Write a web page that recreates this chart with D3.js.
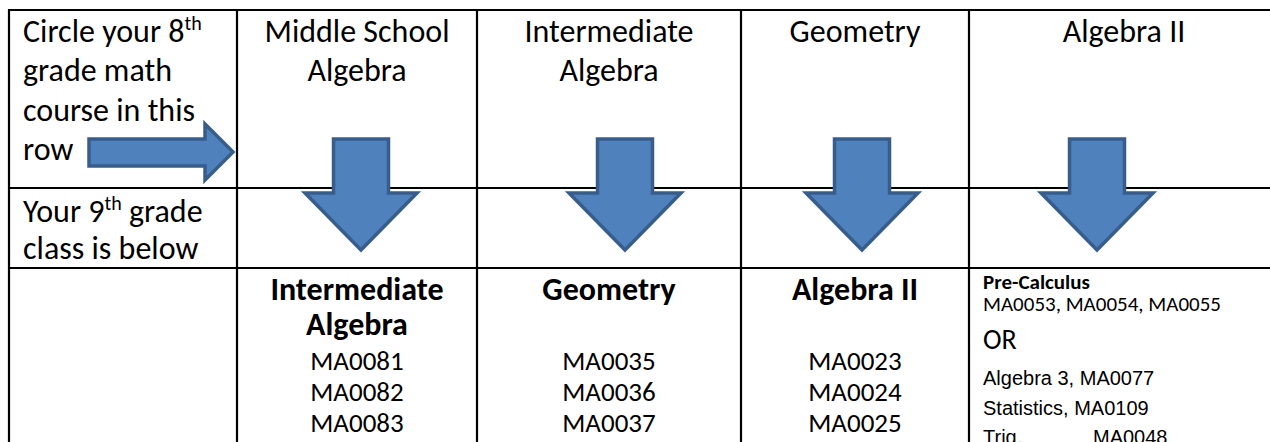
<!DOCTYPE html>
<html>
<head>
<meta charset="utf-8">
<script src="https://cdn.jsdelivr.net/npm/d3@7"></script>
<style>
  body { margin: 0; background: #fff; }
  svg text { font-family: Carlito, Calibri, Lato, sans-serif; fill: #000; }
</style>
</head>
<body>
<div id="chart"></div>
<script>
// table content
const rowLabels = [
  [["Circle your 8", "th"], ["grade math"], ["course in this"], ["row"]],
  [["Your 9", "th", " grade"], ["class is below"]]
];
const eighthCourses = [["Middle School", "Algebra"], ["Intermediate", "Algebra"], ["Geometry"], ["Algebra II"]];
const ninthCourses = [["Intermediate", "Algebra"], ["Geometry"], ["Algebra II"]];
const ninthCodes = [["MA0081", "MA0082", "MA0083"], ["MA0035", "MA0036", "MA0037"], ["MA0023", "MA0024", "MA0025"]];
const advancedTitle = "Pre-Calculus";
const advancedCodes = "MA0053, MA0054, MA0055";
const advancedOr = "OR";
const advancedOptions = [["Algebra 3, MA0077", ""], ["Statistics, MA0109", ""], ["Trig.", "MA0048"]];

const width = 1270, height = 442;

const svg = d3.select("#chart").append("svg")
  .attr("width", width)
  .attr("height", height);

svg.append("rect").attr("width", width).attr("height", height).attr("fill", "#fff");

// column edges and row edges
const x = d3.scaleLinear().domain([0, 1, 2, 3, 4, 5]).range([9, 237, 477, 741, 969, 1279]);
const y = d3.scaleLinear().domain([0, 1, 2, 3]).range([10, 188, 268, 520]);
const colCenter = i => (x(i) + x(i + 1)) / 2;
// arrows are not exactly centred in their columns
const arrowX = d3.scaleLinear().domain([1, 2, 3, 4]).range([361, 625, 862, 1097]);

// grid
const grid = svg.append("g").attr("stroke", "#000").attr("stroke-width", 2.2);
grid.selectAll("line.v").data(d3.range(0, 6)).enter().append("line")
  .attr("x1", d => x(d)).attr("x2", d => x(d))
  .attr("y1", y(0)).attr("y2", height + 5);
grid.selectAll("line.h").data([0, 1, 2]).enter().append("line")
  .attr("x1", x(0) - 1).attr("x2", x(5))
  .attr("y1", d => y(d)).attr("y2", d => y(d));

// left column labels
const labelBase = [[42, 81, 120.5, 159.5], [222, 259]];
rowLabels.forEach((lines, r) => {
  lines.forEach((parts, i) => {
    const t = svg.append("text").attr("x", 23).attr("y", labelBase[r][i]).attr("font-size", 32);
    parts.forEach((p, k) => {
      const sup = p === "th";
      const s = t.append("tspan").text(p);
      if (sup) s.attr("font-size", 20).attr("dy", -12);
      else if (k > 0) s.attr("dy", 12);
    });
  });
});

// 8th grade courses (header row)
eighthCourses.forEach((lines, c) => {
  svg.selectAll(null).data(lines).enter().append("text")
    .attr("x", colCenter(c + 1))
    .attr("y", (d, i) => 42 + i * 39)
    .attr("text-anchor", "middle")
    .attr("font-size", 32)
    .text(d => d);
});

// 9th grade courses
ninthCourses.forEach((lines, c) => {
  svg.selectAll(null).data(lines).enter().append("text")
    .attr("x", colCenter(c + 1))
    .attr("y", (d, i) => 300 + i * 35)
    .attr("text-anchor", "middle")
    .attr("font-size", 32)
    .attr("font-weight", "bold")
    .text(d => d);
  svg.selectAll(null).data(ninthCodes[c]).enter().append("text")
    .attr("x", colCenter(c + 1))
    .attr("y", (d, i) => 369.5 + i * 31)
    .attr("text-anchor", "middle")
    .attr("font-size", 27)
    .text(d => d);
});

// last column options
const lx = x(4) + 14;
svg.append("text").attr("x", lx).attr("y", 289).attr("font-size", 21).attr("font-weight", "bold").text(advancedTitle);
svg.append("text").attr("x", lx).attr("y", 311).attr("font-size", 21).text(advancedCodes);
svg.append("text").attr("x", lx).attr("y", 349).attr("font-size", 28).text(advancedOr);
advancedOptions.forEach((d, i) => {
  const g = svg.append("g").style("font-family", "'Liberation Sans', Arial, sans-serif");
  g.append("text").attr("x", lx).attr("y", 385 + i * 29.5).attr("font-size", 20)
    .style("font-family", "inherit").text(d[0]);
  if (d[1]) g.append("text").attr("x", lx + 110).attr("y", 385 + i * 29.5).attr("font-size", 20)
    .style("font-family", "inherit").text(d[1]);
});

// arrows
const arrowFill = "#4f81bd", arrowStroke = "#385d8a";
const shaftW = 55, headW = 112, shaftTop = 139, headTop = 193, tipY = 250;
const downArrow = cx => {
  const p = d3.path();
  p.moveTo(cx - shaftW / 2, shaftTop);
  p.lineTo(cx + shaftW / 2, shaftTop);
  p.lineTo(cx + shaftW / 2, headTop);
  p.lineTo(cx + headW / 2, headTop);
  p.lineTo(cx, tipY);
  p.lineTo(cx - headW / 2, headTop);
  p.lineTo(cx - shaftW / 2, headTop);
  p.closePath();
  return p.toString();
};
svg.selectAll("path.down").data([1, 2, 3, 4]).enter().append("path")
  .attr("d", d => downArrow(arrowX(d)))
  .attr("fill", arrowFill)
  .attr("stroke", arrowStroke)
  .attr("stroke-width", 3.5);

// right arrow in the first cell
const ra = d3.path();
ra.moveTo(89, 139); ra.lineTo(205, 139); ra.lineTo(205, 124); ra.lineTo(233, 152);
ra.lineTo(205, 180); ra.lineTo(205, 166); ra.lineTo(89, 166); ra.closePath();
svg.append("path").attr("d", ra.toString())
  .attr("fill", arrowFill).attr("stroke", arrowStroke).attr("stroke-width", 3.5);
</script>
</body>
</html>
